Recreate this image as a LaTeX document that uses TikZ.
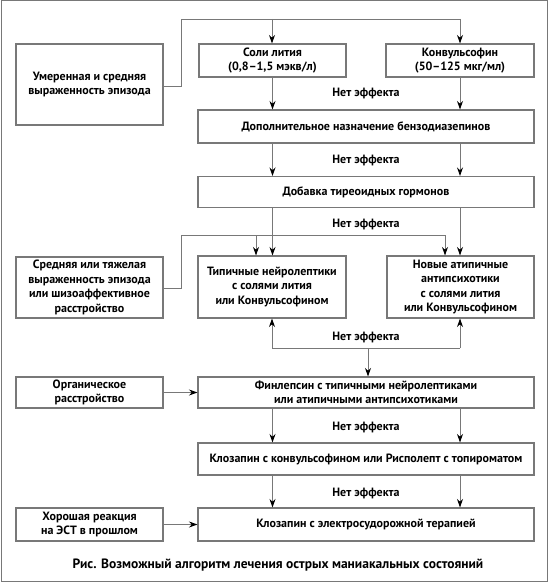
\documentclass[tikz,border=0pt]{standalone}
\usepackage{fontspec}
\setmainfont{PT Sans}
\usetikzlibrary{arrows.meta}
\definecolor{ln}{RGB}{120,120,120}
\begin{document}
\begin{tikzpicture}[x=1pt,y=-1pt,
  every node/.style={font=\bfseries\fontsize{12}{14.5}\selectfont, inner sep=0pt},
  box/.style={draw=ln, line width=1.1pt, align=center, anchor=center},
  lbl/.style={anchor=center},
  conn/.style={draw=ln, line width=0.9pt},
  arr/.style={conn, -{Stealth[length=8.5pt,width=6pt,color=black]}}
]
\useasboundingbox (0,0) rectangle (550,583);
\draw[ln, line width=1pt] (1,1) rectangle (547,581);

% boxes
\node[box, minimum width=147, minimum height=81] (A) at (89.5,84.5) {Умеренная и средняя\\выраженность эпизода};
\node[box, minimum width=147, minimum height=33] (L) at (272.5,60.5) {Соли лития\\(0,8–1,5 мэкв/л)};
\node[box, minimum width=148, minimum height=33] (K) at (460,60.5) {Конвульсофин\\(50–125 мкг/мл)};
\node[box, minimum width=336, minimum height=33] (D1) at (366,126.5) {Дополнительное назначение бензодиазепинов};
\node[box, minimum width=336, minimum height=31] (D2) at (366,192) {Добавка тиреоидных гормонов};
\node[box, minimum width=147, minimum height=61] (B) at (89.5,287.5) {Средняя или тяжелая\\выраженность эпизода\\или шизоаффективное\\расстройство};
\node[box, minimum width=148, minimum height=62] (T) at (272,287) {Типичные нейролептики\\с солями лития\\или Конвульсофином};
\node[box, minimum width=147, minimum height=62] (N) at (460.5,287) {Новые атипичные\\антипсихотики\\с солями лития\\или Конвульсофином};
\node[box, minimum width=147, minimum height=31] (O) at (89.5,392.5) {Органическое\\расстройство};
\node[box, minimum width=336, minimum height=31] (F) at (366,392.5) {Финлепсин с типичными нейролептиками\\или атипичными антипсихотиками};
\node[box, minimum width=336, minimum height=32] (C) at (366,459) {Клозапин с конвульсофином или Рисполепт с топироматом};
\node[box, minimum width=147, minimum height=33] (E) at (89.5,524.5) {Хорошая реакция\\на ЭСТ в прошлом};
\node[box, minimum width=336, minimum height=33] (Z) at (366,524.5) {Клозапин с электросудорожной терапией};

% labels
\node[lbl] (n1) at (366,94) {Нет эффекта};
\node[lbl] (n2) at (366,160) {Нет эффекта};
\node[lbl] (n3) at (366,224) {Нет эффекта};
\node[lbl] (n4) at (366,337) {Нет эффекта};
\node[lbl] (n5) at (366,427) {Нет эффекта};
\node[lbl] (n6) at (366,493) {Нет эффекта};
\node[font=\bfseries\fontsize{13.5}{15}\selectfont] (cap) at (278,565) {Рис. Возможный алгоритм лечения острых маниакальных состояний};

% top input
\coordinate (a1) at (181,86);
\coordinate (a2) at (181,19);
\coordinate (a3) at (272,19);
\coordinate (a4) at (460,19);
\draw[conn] (A.east |- a1) -- (a1) -- (a2) -- (a4);
\draw[arr] (a3) -- (a3 |- L.north);
\draw[arr] (a4) -- (a4 |- K.north);

% L,K -> D1 -> D2
\draw[arr] (L.south) -- (L.south |- D1.north);
\draw[arr] (K.south) -- (K.south |- D1.north);
\draw[arr] (D1.south -| L.south) -- (L.south |- D2.north);
\draw[arr] (D1.south -| K.south) -- (K.south |- D2.north);

% D2 -> T,N
\draw[arr] (D2.south -| L.south) -- (L.south |- T.north);
\draw[arr] (D2.south -| K.south) -- (K.south |- N.north);

% second input
\coordinate (b1) at (181,288);
\coordinate (b2) at (181,235);
\coordinate (b3) at (256,235);
\coordinate (b4) at (445,235);
\draw[conn] (B.east |- b1) -- (b1) -- (b2) -- (b4);
\draw[arr] (b3) -- (b3 |- T.north);
\draw[arr] (b4) -- (b4 |- N.north);

% T,N bottom junction -> F
\coordinate (j1) at (272,348);
\coordinate (j2) at (460,348);
\coordinate (j3) at (368,348);
\draw[conn] (j1) -- (j2);
\draw[arr] (j1) -- (j1 |- T.south);
\draw[arr] (j2) -- (j2 |- N.south);
\draw[arr] (j3) -- (j3 |- F.north);

% organic
\draw[arr] (O.east) -- (O.east -| F.west);

% F -> C -> Z
\draw[arr] (F.south -| L.south) -- (L.south |- C.north);
\draw[arr] (F.south -| K.south) -- (K.south |- C.north);
\draw[arr] (C.south -| L.south) -- (L.south |- Z.north);
\draw[arr] (C.south -| K.south) -- (K.south |- Z.north);

% ECT
\draw[arr] (E.east) -- (E.east -| Z.west);
\end{tikzpicture}
\end{document}
